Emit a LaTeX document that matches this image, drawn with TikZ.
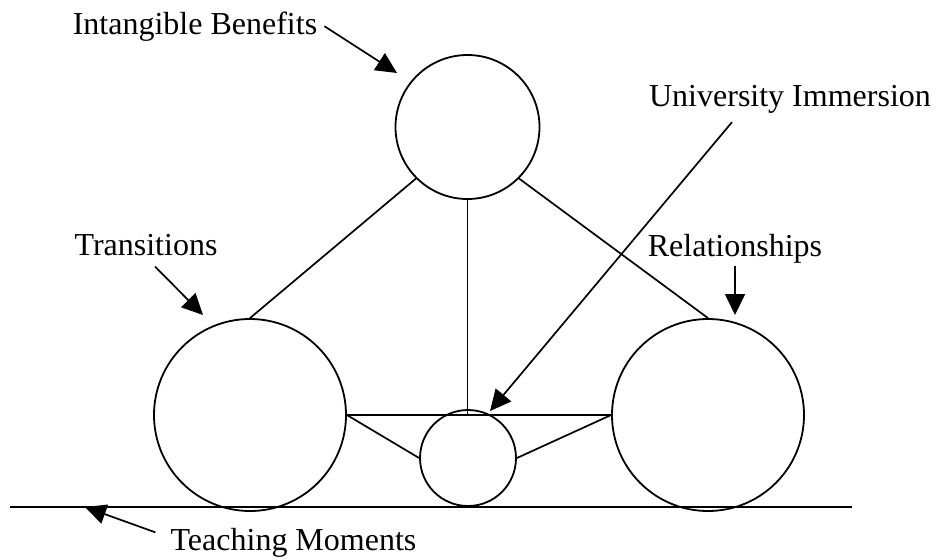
\documentclass[tikz,border=0pt]{standalone}
\usepackage{fontspec}
\setmainfont{Liberation Serif}
\usetikzlibrary{arrows.meta}
\tikzset{
	ring/.style={draw,circle,line width=1.8pt,inner sep=0pt},
	tag/.style={anchor=base,inner sep=3pt,font=\fontsize{32}{36}\selectfont},
	pointer/.style={-{Triangle[length=21pt,width=20pt]},line width=1.7pt}
}
\begin{document}
\begin{tikzpicture}[x=1pt,y=-1pt]
				\useasboundingbox (0,0) rectangle (936,558);
				\node[ring,minimum size=144pt] (benefits) at (467.5,127) {};
				\node[ring,minimum size=192pt] (transitions) at (250,415) {};
				\node[ring,minimum size=192pt] (relationships) at (708,415) {};
				\node[ring,minimum size=96pt] (immersion) at (468,458) {};
				\coordinate (g1) at (10,507);
				\coordinate (g2) at (852,507);
				\draw[line width=1.8pt] (g1) -- (g2);
				\draw[line width=1.7pt] (benefits.south west) -- (transitions.north);
				\draw[line width=1.7pt] (benefits.south east) -- (relationships.north);
				\draw[line width=1.7pt] (benefits.south) -- (benefits.south |- transitions.east);
				\draw[line width=1.8pt] (transitions.east) -- (relationships.west);
				\draw[line width=1.7pt] (transitions.east) -- (immersion.west);
				\draw[line width=1.7pt] (relationships.west) -- (immersion.east);
				\node[tag] (ib) at (195,34) {Intangible Benefits};
				\node[tag] (tr) at (146,255) {Transitions};
				\node[tag] (rel) at (735,256) {Relationships};
				\node[tag] (ui) at (790,106) {University Immersion};
				\node[tag] (tm) at (293.5,550) {Teaching Moments};
				\coordinate (ibtip) at (397,73);
				\coordinate (trtip) at (203,315);
				\coordinate (reltip) at (735,315);
				\coordinate (uitip) at (490,411);
				\coordinate (tmtip) at (85,507);
				\draw[pointer] ([xshift=4pt]ib.east) -- (ibtip);
				\draw[pointer] ([xshift=9pt,yshift=-8pt]tr.south) -- (trtip);
				\draw[pointer] (rel.south) -- (reltip);
				\draw[pointer] ([xshift=-58pt,yshift=-6pt]ui.south) -- (uitip);
				\draw[pointer] ([xshift=-12pt,yshift=10pt]tm.west) -- (tmtip);
		\end{tikzpicture}
\end{document}
